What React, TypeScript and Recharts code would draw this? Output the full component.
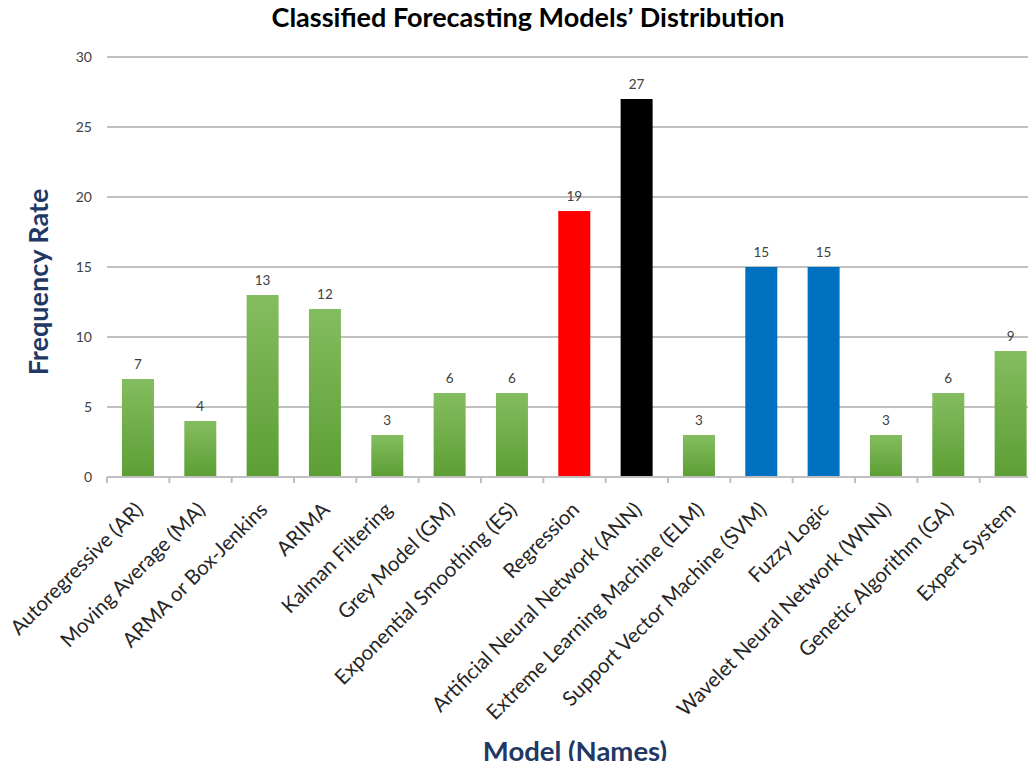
import { BarChart, Bar, XAxis, YAxis, CartesianGrid, Cell, LabelList } from "recharts";

const models = [
  "Autoregressive (AR)",
  "Moving Average (MA)",
  "ARMA or Box-Jenkins",
  "ARIMA",
  "Kalman Filtering",
  "Grey Model (GM)",
  "Exponential Smoothing (ES)",
  "Regression",
  "Artificial Neural Network (ANN)",
  "Extreme Learning Machine (ELM)",
  "Support Vector Machine (SVM)",
  "Fuzzy Logic",
  "Wavelet Neural Network (WNN)",
  "Genetic Algorithm (GA)",
  "Expert System",
];
const frequency = [7, 4, 13, 12, 3, 6, 6, 19, 27, 3, 15, 15, 3, 6, 9];
const yTicks = [0, 5, 10, 15, 20, 25, 30];

const data = models.map((name, i) => ({ name, value: frequency[i] }));

// bars that Excel coloured by hand, the rest use the green gradient
const highlight: Record<string, string> = {
  "Regression": "#ff0000",
  "Artificial Neural Network (ANN)": "#000000",
  "Support Vector Machine (SVM)": "#0070c0",
  "Fuzzy Logic": "#0070c0",
};

const W = 1050;
const H = 769;
const PLOT_LEFT = 107;
const PLOT_RIGHT = 8;
const BAND = (W - PLOT_LEFT - PLOT_RIGHT) / models.length;
const font = "Lato, 'Open Sans', sans-serif";
const navy = "#1f3864";

function CategoryTick(props: any) {
  const { x, y, payload, index } = props;
  return (
    <g>
      <line x1={x - BAND / 2} x2={x - BAND / 2} y1={y} y2={y + 6} stroke="#bfbfbf" strokeWidth={2} />
      {index === models.length - 1 && (
        <line x1={x + BAND / 2} x2={x + BAND / 2} y1={y} y2={y + 6} stroke="#bfbfbf" strokeWidth={2} />
      )}
      <text
        transform={`translate(${x + 6},${y + 34}) rotate(-45)`}
        textAnchor="end"
        fontSize={20.5}
        fill="#262626"
        fontFamily={font}
      >
        {payload.value}
      </text>
    </g>
  );
}

export default function App() {
  return (
    <div style={{ position: "relative", width: 1036, height: H, margin: -8, overflow: "hidden", background: "#fff", fontFamily: font }}>
      <div style={{ position: "absolute", top: 0, left: 0, width: 1056, textAlign: "center", fontSize: 27, fontWeight: 700, color: "#000" }}>
        Classified Forecasting Models’ Distribution
      </div>
      <div
        style={{
          position: "absolute", left: 37, top: 282, transform: "translate(-50%, -50%) rotate(-90deg)",
          fontSize: 27, fontWeight: 700, color: navy, whiteSpace: "nowrap",
        }}
      >
        Frequency Rate
      </div>
      <div
        style={{
          position: "absolute", left: 575, top: 750, transform: "translate(-50%, -50%)",
          fontSize: 27.5, fontWeight: 700, color: navy, whiteSpace: "nowrap",
        }}
      >
        Model (Names)
      </div>
      <BarChart
        width={W}
        height={H}
        data={data}
        margin={{ top: 57, right: PLOT_RIGHT, left: 0, bottom: 0 }}
        barCategoryGap="24%"
      >
        <defs>
          <linearGradient id="greenGrad" x1="0" y1="0" x2="0" y2="1">
            <stop offset="0%" stopColor="#84bd5f" />
            <stop offset="100%" stopColor="#5c9e34" />
          </linearGradient>
        </defs>
        <CartesianGrid vertical={false} stroke="#c0c0c0" strokeWidth={2} />
        <XAxis
          dataKey="name"
          height={H - 477}
          interval={0}
          tickLine={false}
          tickSize={0}
          tickMargin={0}
          axisLine={{ stroke: "#bfbfbf", strokeWidth: 2 }}
          tick={<CategoryTick />}
        />
        <YAxis
          width={PLOT_LEFT}
          domain={[0, 30]}
          ticks={yTicks}
          interval={0}
          axisLine={false}
          tickLine={false}
          tickSize={6}
          tickMargin={9}
          tick={{ fill: "#404040", fontSize: 14, fontFamily: font }}
        />
        <Bar dataKey="value" isAnimationActive={false}>
          {data.map((d) => (
            <Cell key={d.name} fill={highlight[d.name] ?? "url(#greenGrad)"} />
          ))}
          <LabelList dataKey="value" position="top" offset={10} fill="#404040" fontSize={13.5} fontFamily={font} />
        </Bar>
      </BarChart>
    </div>
  );
}
